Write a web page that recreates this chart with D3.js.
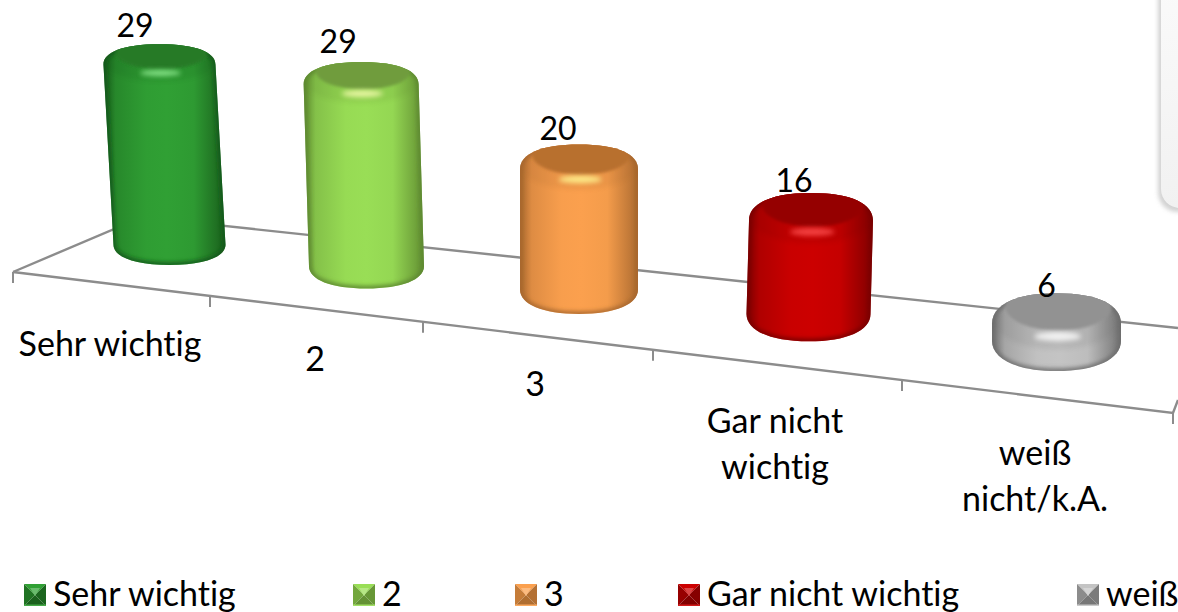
<!DOCTYPE html>
<html lang="de">
<head>
<meta charset="utf-8">
<script src="https://cdnjs.cloudflare.com/ajax/libs/d3/7.8.5/d3.min.js"></script>
<style>
html,body{margin:0;padding:0;background:#fff;overflow:hidden}
svg{display:block}
text{font-family:Lato,"Open Sans",sans-serif;fill:#000;font-variant-ligatures:none;font-feature-settings:"liga" 0}
</style>
</head>
<body>
<svg id="chart" width="1178" height="612"></svg>
<script>
const categories = ["Sehr wichtig", "2", "3", "Gar nicht wichtig", "weiß nicht/k.A."];
const values = [29, 29, 20, 16, 6];
const bodyColors = ["#30a034", "#99de56", "#fba04e", "#cc0000", "#c4c4c4"];
const edgeColors = ["#175a1a", "#5e8a30", "#a8682e", "#7a0000", "#6e6e6e"];
const faceColors = ["#277a27", "#6f9c3d", "#b8702f", "#950000", "#929292"];
const glowColors = ["#9cf59c", "#ffffb8", "#ffff98", "#ff5050", "#ffffff"];

const W = 1178, H = 612, FS = 32, TS = 34;
const idx = d3.range(categories.length);

// perspective scales of the floor (category units -> pixels)
const frontX = d3.scaleLinear().domain([0,1,2,3,4,5]).range([13,210,423,653,902,1173]);
const frontY = d3.scaleLinear().domain([13,1173]).range([272,413]);
const backY  = d3.scaleLinear().domain([225,1178]).range([226,328]);
const baseX  = d3.scaleLinear().domain([0,1,2,3,4]).range([169.5,366.5,579,808.5,1056.5]);
const baseY  = d3.scaleLinear().domain([169.5,1056.5]).range([265,371]);
const widthS = d3.scaleLinear().domain([169.5,366.5,579,808.5,1056.5]).range([112,115,118,124,129]);
const heightRatio = d3.scaleLinear().domain([0,29]).range([0.245,1.9705]);
const ryRatio = d3.scaleLinear().domain([0,4]).range([0.18,0.235]);
const leanS = d3.scaleLinear().domain([169.5,579,808.5,1056.5]).range([-0.0455,0,0.017,0]);

const svg = d3.select("#chart").attr("viewBox",[0,0,W,H]);
const defs = svg.append("defs");
defs.append("filter").attr("id","b2").attr("x","-30%").attr("y","-30%").attr("width","160%").attr("height","160%")
  .append("feGaussianBlur").attr("stdDeviation",2);
defs.append("filter").attr("id","b1").attr("x","-50%").attr("y","-100%").attr("width","200%").attr("height","300%")
  .append("feGaussianBlur").attr("stdDeviation",1.6);
defs.append("filter").attr("id","bh").attr("x","-50%").attr("y","-150%").attr("width","200%").attr("height","400%")
  .append("feGaussianBlur").attr("stdDeviation",2.4);

// top-right panel
const pg = defs.append("linearGradient").attr("id","panel").attr("x1",0).attr("x2",0).attr("y1",0).attr("y2",1);
pg.append("stop").attr("offset",0).attr("stop-color","#fbfbfb");
pg.append("stop").attr("offset",1).attr("stop-color","#f1f1f1");
svg.append("rect").attr("x",1158).attr("y",-40).attr("width",80).attr("height",252).attr("rx",20)
  .attr("fill","#b5b5b5").attr("opacity",.6).attr("filter","url(#b2)");
svg.append("rect").attr("x",1161).attr("y",-40).attr("width",80).attr("height",248).attr("rx",19)
  .attr("fill","url(#panel)");

// floor
const floor = svg.append("g").attr("fill","none").attr("stroke","#8c8c8c").attr("stroke-width",2.4);
const corner = {x:142,y:backY(142)};
const line = d3.line();
floor.append("path").attr("d",line([[frontX(0),frontY(frontX(0))],[corner.x,corner.y],[1178,backY(1178)]]));
floor.append("path").attr("d",line([[frontX(0),frontY(frontX(0))],[frontX(5),frontY(frontX(5))],[1178,400]]));
floor.selectAll("line.tick").data(d3.range(6)).join("line").attr("class","tick")
  .attr("x1",d=>frontX(d)).attr("x2",d=>frontX(d)).attr("stroke-width",2)
  .attr("y1",d=>frontY(frontX(d))).attr("y2",d=>frontY(frontX(d))+11);

// geometry of one cylinder
function geom(i){
  const bx = baseX(i), yb = baseY(bx), w = widthS(bx);
  const h = w*heightRatio(values[i]);
  const tx = bx+leanS(bx)*h, yt = yb-h, rx = w/2, ry = w*ryRatio(i);
  return {bx,yb,w,h,tx,yt,rx,ry};
}
function silhouette(g){
  const {bx,yb,tx,yt,rx,ry} = g;
  const p = d3.path();
  p.moveTo(tx-rx,yt+ry);
  p.bezierCurveTo(tx-rx,yt+ry*.4,tx-rx*.66,yt,tx,yt);
  p.bezierCurveTo(tx+rx*.66,yt,tx+rx,yt+ry*.4,tx+rx,yt+ry);
  p.lineTo(bx+rx,yb-ry);
  p.bezierCurveTo(bx+rx,yb-ry*.4,bx+rx*.62,yb,bx,yb);
  p.bezierCurveTo(bx-rx*.62,yb,bx-rx,yb-ry*.4,bx-rx,yb-ry);
  p.closePath();
  return p.toString();
}

const cyl = svg.selectAll("g.cyl").data(idx).join("g").attr("class","cyl");
cyl.each(function(i){
  const g = geom(i), s = d3.select(this), sil = silhouette(g);
  const mix = d3.interpolateRgb(edgeColors[i],bodyColors[i]);
  const grad = defs.append("linearGradient").attr("id","body"+i);
  [[0,edgeColors[i]],[.10,mix(.65)],[.35,mix(.96)],[.52,bodyColors[i]],[.74,mix(.92)],[.93,mix(.3)],[1,edgeColors[i]]]
   .forEach(([o,c])=>grad.append("stop").attr("offset",o).attr("stop-color",c));
  defs.append("clipPath").attr("id","clip"+i).append("path").attr("d",sil);
  s.append("path").attr("d",sil).attr("fill",`url(#body${i})`);
  const inner = s.append("g").attr("clip-path",`url(#clip${i})`);
  // rim darkening along the lower edge
  inner.append("path").attr("d",sil).attr("fill","none")
    .attr("stroke",edgeColors[i]).attr("stroke-width",5).attr("filter","url(#b2)");
  // shoulder shading
  inner.append("ellipse").attr("cx",g.tx).attr("cy",g.yt+g.ry*.75).attr("rx",g.rx*1.02).attr("ry",g.ry*1.1)
    .attr("fill",edgeColors[i]).attr("opacity",.13).attr("filter","url(#b2)");
  // flat top face
  inner.append("ellipse").attr("cx",g.tx+2).attr("cy",g.yt+g.ry*.45).attr("rx",g.rx*.82).attr("ry",g.ry*.78)
    .attr("fill",faceColors[i]).attr("filter","url(#b1)");
  // highlight
  inner.append("ellipse").attr("cx",g.tx+g.rx*.02).attr("cy",g.yt+g.ry*1.42).attr("rx",g.rx*.36).attr("ry",Math.max(2.4,g.ry*.15))
    .attr("fill",glowColors[i]).attr("opacity",.8).attr("filter","url(#bh)");
});

// value labels
const labelDx = [-24.5,-23,-21,-17,-10], labelDy = [-7,-9,-5,-1,4];
svg.selectAll("text.val").data(idx).join("text").attr("class","val")
  .attr("text-anchor","middle").attr("font-size",FS)
  .attr("x",i=>geom(i).tx+labelDx[i]).attr("y",i=>geom(i).yt+labelDy[i]).text(i=>values[i]);

// category labels
const catCx = [110,315,535,775,1035], catY = [356,371,396,433,465], LH = 45.5;
const cats = svg.selectAll("text.cat").data(idx).join("text").attr("class","cat")
  .attr("text-anchor","middle").attr("font-size",TS).attr("y",i=>catY[i]);
cats.text(i=>categories[i]).each(function(i){
  const t = d3.select(this);
  if(this.getComputedTextLength()>200 && categories[i].includes(" ")){
    const k = categories[i].lastIndexOf(" ");
    t.text(null);
    [categories[i].slice(0,k),categories[i].slice(k+1)].forEach((l,j)=>
      t.append("tspan").attr("x",catCx[i]).attr("y",catY[i]+j*LH).text(l));
  } else t.attr("x",catCx[i]);
});

// legend
const legX = [24,353,515,678,1077], legY = 584, S = 22;
const leg = svg.selectAll("g.leg").data(idx).join("g").attr("class","leg")
  .attr("transform",i=>`translate(${legX[i]},${legY})`);
leg.each(function(i){
  const s = d3.select(this), m = S/2, c = bodyColors[i], e = edgeColors[i];
  const tri = [
    [[0,0],[S,0],[m,m],c],
    [[0,0],[0,S],[m,m],d3.interpolateRgb(e,c)(.35)],
    [[S,0],[S,S],[m,m],d3.interpolateRgb(e,c)(.15)],
    [[0,S],[S,S],[m,m],d3.interpolateRgb(e,c)(.1)],
    [[m-5,4],[m+5,4],[m,m+1],d3.interpolateRgb(c,"#fff")(.28)]
  ];
  s.selectAll("path").data(tri).join("path")
    .attr("d",d=>line(d.slice(0,3))+"Z").attr("fill",d=>d[3]);
  s.append("rect").attr("y",S-1.5).attr("width",S).attr("height",1.5).attr("fill",d3.interpolateRgb(c,"#fff")(.1));
  s.append("text").attr("x",S+7).attr("y",22).attr("font-size",TS).text(categories[i]);
});
</script>
</body>
</html>
